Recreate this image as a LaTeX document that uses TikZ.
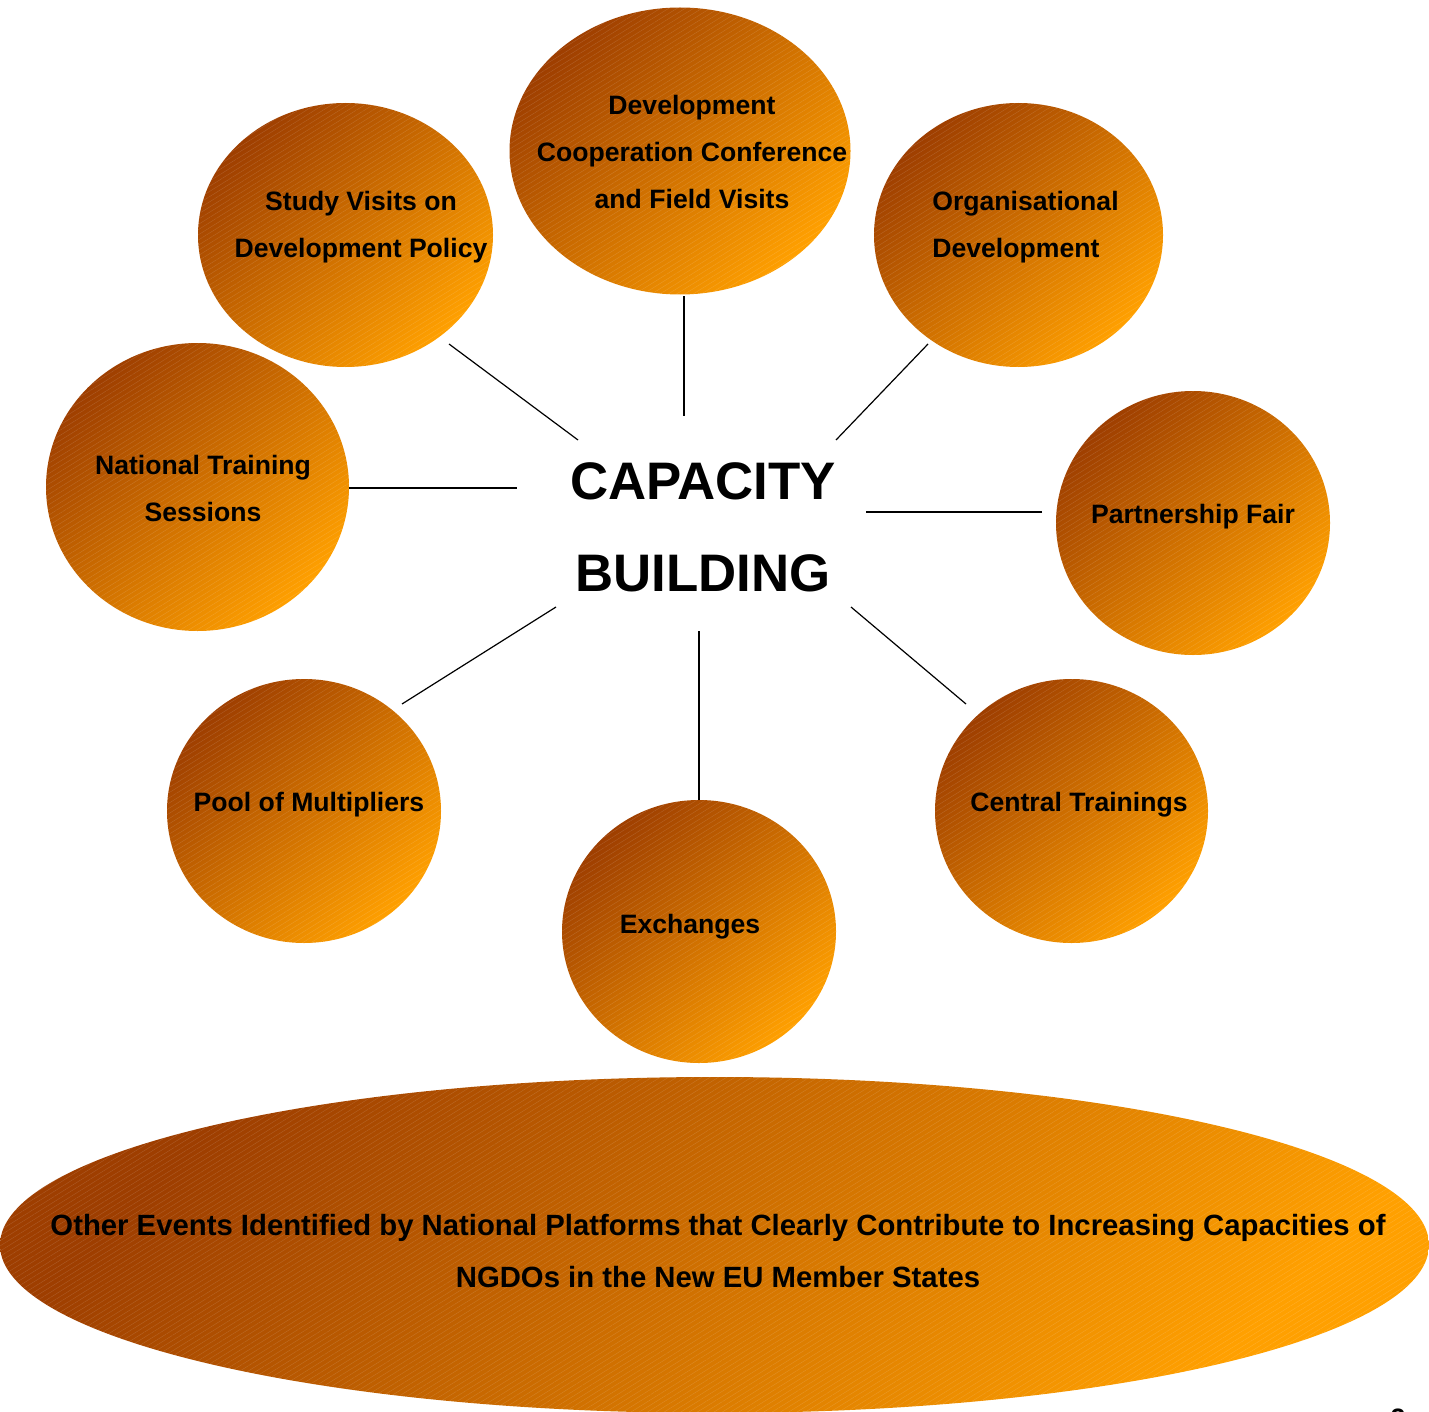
\documentclass[tikz,border=0pt]{standalone}
\usepackage{fontspec}
\setmainfont{Liberation Sans}
\usetikzlibrary{shapes.geometric, patterns.meta}
\definecolor{rustdark}{RGB}{158,62,0}
\definecolor{rustmid}{RGB}{214,112,14}
\definecolor{rustlight}{RGB}{255,160,0}
\tikzset{%
  % Specifications for style of nodes:
  bubble/.style = {ellipse, inner sep=0pt, top color=rustdark, middle color=rustmid,
                   bottom color=rustlight, shading angle=45,
                   postaction={pattern={Lines[angle=32,distance=2.2pt,line width=0.2pt]},
                               pattern color=white, opacity=0.15}},
  label/.style  = {align=center, inner sep=0pt, font=\fontsize{13.3}{23.5}\selectfont\bfseries},
  title/.style  = {align=center, inner sep=0pt, font=\fontsize{26.4}{46}\selectfont\bfseries},
  spoke/.style  = {draw, black, line width=0.6pt}
}

\begin{document}
\begin{tikzpicture}[x=0.5pt, y=-0.5pt]
  \useasboundingbox (0,0) rectangle (1429,1412);
  % bubbles round the centre
  \node (devc)    [bubble, minimum width=170.5pt, minimum height=143.5pt] at (680,151)   {};
  \node (study)   [bubble, minimum width=147.5pt, minimum height=132pt]   at (345.5,235) {};
  \node (orgdev)  [bubble, minimum width=144.5pt, minimum height=132pt]   at (1018.5,235) {};
  \node (natl)    [bubble, minimum width=151.5pt, minimum height=144pt]   at (197.5,487) {};
  \node (fair)    [bubble, minimum width=137pt,   minimum height=132pt]   at (1193,523)  {};
  \node (pool)    [bubble, minimum width=137pt,   minimum height=132pt]   at (304,811)   {};
  \node (exch)    [bubble, minimum width=137pt,   minimum height=131.5pt] at (699,931.5) {};
  \node (central) [bubble, minimum width=136.5pt, minimum height=132pt]   at (1071.5,811) {};
  \node (other)   [bubble, minimum width=714.5pt, minimum height=168pt]   at (714.5,1245) {};

  % texts
  \node (cb)        [title] at (703,527) {CAPACITY\\BUILDING};
  \node (devc-t)    [label] at (692,152) {Development\\Cooperation Conference\\and Field Visits};
  \node (study-t)   [label] at (361,227) {Study Visits on\\Development Policy};
  \node (orgdev-t)  [label, align=left, anchor=west] at (932,227) {Organisational\\Development};
  \node (natl-t)    [label] at (203,488) {National Training\\Sessions};
  \node (fair-t)    [label] at (1193,517) {Partnership Fair};
  \node (pool-t)    [label] at (309,805) {Pool of Multipliers};
  \node (exch-t)    [label] at (690,927) {Exchanges};
  \node (central-t) [label] at (1079,805) {Central Trainings};
  \node (other-t)   [label, font=\fontsize{14.65}{26}\selectfont\bfseries] at (718,1251)
        {Other Events Identified by National Platforms that Clearly Contribute to Increasing Capacities of\\NGDOs in the New EU Member States};
  \node (pagenum)   [label] at (1398,1418) {2};

  % spoke ends
  \coordinate (s1) at (449,344);  \coordinate (c1) at (578,440);
  \coordinate (s2) at (684,296);  \coordinate (c2) at (684,416);
  \coordinate (s3) at (928,344);  \coordinate (c3) at (836,440);
  \coordinate (s4) at (349,488);  \coordinate (c4) at (517,488);
  \coordinate (s5) at (1042,512); \coordinate (c5) at (866,512);
  \coordinate (s6) at (402,704);  \coordinate (c6) at (556,607);
  \coordinate (s7) at (699,800);  \coordinate (c7) at (699,631);
  \coordinate (s8) at (966,704);  \coordinate (c8) at (851,607);

  \foreach \i in {1,...,8}
    \draw [spoke] (s\i) -- (c\i);
\end{tikzpicture}
\end{document}
